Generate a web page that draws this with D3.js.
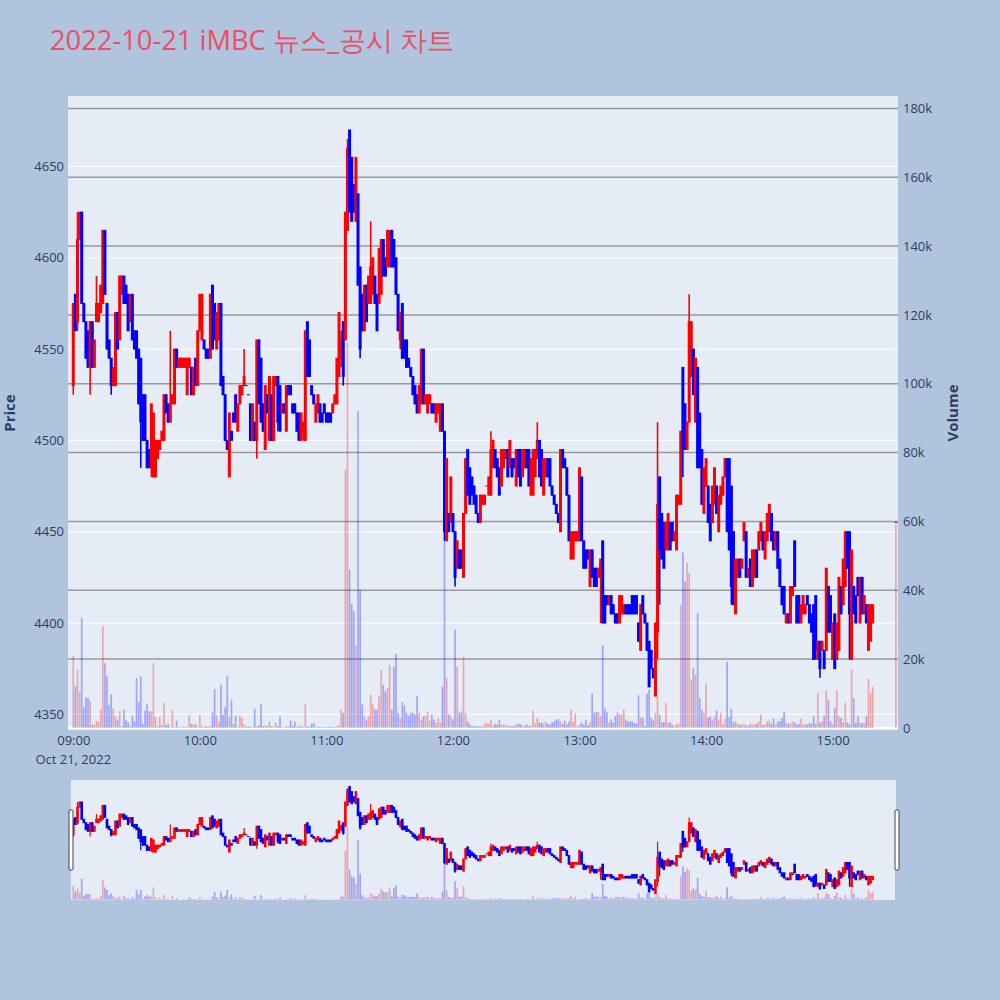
<!DOCTYPE html>
<html><head><meta charset="utf-8">
<script src="https://cdn.jsdelivr.net/npm/d3@7"></script>
<style>
body{margin:0;background:#B0C4DE}
svg{display:block}
text{font-family:"Open Sans",Verdana,Arial,sans-serif}
</style>
</head><body>
<svg id="c" width="1000" height="1000"></svg>
<script>
const chartTitle = "2022-10-21 iMBC 뉴스_공시 차트";
const tradeDay = "2022-10-21";
const dateLabel = "Oct 21, 2022";
const priceTicks = [4350,4400,4450,4500,4550,4600,4650];
const volumeTicks = [0,20000,40000,60000,80000,100000,120000,140000,160000,180000];
const volumeTickLabels = ["0","20k","40k","60k","80k","100k","120k","140k","160k","180k"];
const timeTicks = ["09:00","10:00","11:00","12:00","13:00","14:00","15:00"];

const times = [
"09:00","09:01","09:02","09:03","09:04","09:05","09:06","09:07","09:08","09:09",
"09:10","09:11","09:12","09:13","09:14","09:15","09:16","09:17","09:18","09:19",
"09:20","09:21","09:22","09:23","09:24","09:25","09:26","09:27","09:28","09:29",
"09:30","09:31","09:32","09:33","09:34","09:35","09:36","09:37","09:38","09:39",
"09:40","09:41","09:42","09:43","09:44","09:45","09:46","09:47","09:48","09:49",
"09:50","09:51","09:52","09:53","09:54","09:55","09:56","09:57","09:58","09:59",
"10:00","10:01","10:02","10:03","10:04","10:05","10:06","10:07","10:08","10:09",
"10:10","10:11","10:12","10:13","10:14","10:15","10:16","10:17","10:18","10:19",
"10:20","10:21","10:22","10:23","10:24","10:25","10:26","10:27","10:28","10:29",
"10:30","10:31","10:32","10:33","10:34","10:35","10:36","10:37","10:38","10:39",
"10:40","10:41","10:42","10:43","10:44","10:45","10:46","10:47","10:48","10:49",
"10:50","10:51","10:52","10:53","10:54","10:55","10:56","10:57","10:58","10:59",
"11:00","11:01","11:02","11:03","11:04","11:05","11:06","11:07","11:08","11:09",
"11:10","11:11","11:12","11:13","11:14","11:15","11:16","11:17","11:18","11:19",
"11:20","11:21","11:22","11:23","11:24","11:25","11:26","11:27","11:28","11:29",
"11:30","11:31","11:32","11:33","11:34","11:35","11:36","11:37","11:38","11:39",
"11:40","11:41","11:42","11:43","11:44","11:45","11:46","11:47","11:48","11:49",
"11:50","11:51","11:52","11:53","11:54","11:55","11:56","11:57","11:58","11:59",
"12:00","12:01","12:02","12:03","12:04","12:05","12:06","12:07","12:08","12:09",
"12:10","12:11","12:12","12:13","12:14","12:15","12:16","12:17","12:18","12:19",
"12:20","12:21","12:22","12:23","12:24","12:25","12:26","12:27","12:28","12:29",
"12:30","12:31","12:32","12:33","12:34","12:35","12:36","12:37","12:38","12:39",
"12:40","12:41","12:42","12:43","12:44","12:45","12:46","12:47","12:48","12:49",
"12:50","12:51","12:52","12:53","12:54","12:55","12:56","12:57","12:58","12:59",
"13:00","13:01","13:02","13:03","13:04","13:05","13:06","13:07","13:08","13:09",
"13:10","13:11","13:12","13:13","13:14","13:15","13:16","13:17","13:18","13:19",
"13:20","13:21","13:22","13:23","13:24","13:25","13:26","13:27","13:28","13:29",
"13:30","13:31","13:32","13:33","13:34","13:35","13:36","13:37","13:38","13:39",
"13:40","13:41","13:42","13:43","13:44","13:45","13:46","13:47","13:48","13:49",
"13:50","13:51","13:52","13:53","13:54","13:55","13:56","13:57","13:58","13:59",
"14:00","14:01","14:02","14:03","14:04","14:05","14:06","14:07","14:08","14:09",
"14:10","14:11","14:12","14:13","14:14","14:15","14:16","14:17","14:18","14:19",
"14:20","14:21","14:22","14:23","14:24","14:25","14:26","14:27","14:28","14:29",
"14:30","14:31","14:32","14:33","14:34","14:35","14:36","14:37","14:38","14:39",
"14:40","14:41","14:42","14:43","14:44","14:45","14:46","14:47","14:48","14:49",
"14:50","14:51","14:52","14:53","14:54","14:55","14:56","14:57","14:58","14:59",
"15:00","15:01","15:02","15:03","15:04","15:05","15:06","15:07","15:08","15:09",
"15:10","15:11","15:12","15:13","15:14","15:15","15:16","15:17","15:18","15:19",
"15:30"];

const opens = [
4530,4580,4565,4610,4625,4575,4565,4560,4540,4565,
4540,4565,4565,4570,4575,4615,4575,4555,4545,4530,
4530,4570,4555,4580,4590,4585,4580,4565,4580,4560,
4560,4550,4545,4525,4525,4500,4495,4485,4480,4480,
4490,4495,4500,4500,4525,4520,4510,4520,4520,4550,
4540,4540,4540,4540,4525,4540,4540,4525,4545,4530,
4560,4555,4555,4550,4550,4545,4585,4575,4550,4555,
4575,4535,4525,4500,4480,4505,4515,4525,4505,4520,
4525,4530,4530,4525,4520,4500,4510,4500,4555,4545,
4520,4495,4525,4500,4525,4500,4530,4535,4530,4515,
4520,4505,4530,4530,4520,4520,4515,4515,4500,4505,
4500,4565,4555,4530,4525,4510,4515,4520,4515,4520,
4515,4515,4515,4515,4520,4520,4535,4545,4565,4555,
4615,4670,4655,4640,4620,4635,4595,4580,4560,4585,
4575,4575,4580,4590,4580,4575,4580,4610,4600,4595,
4595,4615,4610,4600,4580,4555,4575,4555,4555,4545,
4540,4535,4530,4525,4515,4520,4550,4520,4515,4520,
4520,4520,4510,4515,4505,4520,4505,4445,4460,4455,
4460,4450,4430,4440,4440,4425,4460,4495,4485,4480,
4475,4470,4460,4455,4465,4465,4475,4470,4470,4485,
4495,4490,4485,4475,4485,4490,4495,4485,4490,4490,
4475,4495,4495,4480,4485,4495,4495,4470,4470,4480,
4490,4500,4495,4470,4480,4490,4490,4475,4470,4465,
4460,4450,4495,4490,4485,4470,4435,4435,4445,4445,
4445,4480,4445,4440,4440,4420,4440,4430,4430,4425,
4425,4445,4415,4415,4410,4415,4410,4405,4405,4400,
4405,4405,4410,4410,4410,4415,4415,4415,4400,4385,
4415,4405,4400,4390,4385,4375,4360,4395,4480,4460,
4455,4440,4440,4455,4455,4445,4440,4465,4465,4540,
4520,4495,4510,4535,4550,4510,4540,4515,4495,4460,
4475,4475,4465,4455,4465,4475,4450,4465,4470,4480,
4490,4490,4475,4450,4405,4425,4435,4430,4445,4450,
4425,4435,4420,4425,4440,4440,4445,4450,4435,4445,
4450,4460,4450,4440,4450,4435,4420,4420,4400,4405,
4400,4415,4445,4415,4415,4400,4405,4405,4415,4410,
4405,4410,4415,4380,4390,4385,4385,4385,4420,4415,
4380,4405,4380,4385,4420,4410,4420,4450,4450,4380,
4420,4415,4425,4400,4425,4405,4410,4385,4390,4400,
4455];

const highs = [
4575,4580,4625,4625,4625,4575,4565,4560,4565,4565,
4555,4590,4575,4585,4615,4615,4575,4555,4545,4540,
4570,4570,4590,4590,4590,4585,4580,4580,4580,4560,
4560,4550,4545,4525,4525,4500,4495,4520,4515,4500,
4500,4500,4505,4525,4525,4520,4560,4525,4550,4550,
4545,4545,4545,4545,4545,4545,4540,4540,4545,4560,
4580,4580,4555,4550,4550,4580,4585,4575,4570,4575,
4575,4535,4525,4500,4515,4505,4515,4525,4520,4530,
4530,4550,4530,4525,4520,4520,4510,4555,4555,4545,
4520,4530,4525,4535,4525,4535,4535,4535,4530,4520,
4520,4530,4530,4530,4520,4520,4515,4515,4515,4510,
4560,4565,4555,4530,4525,4520,4525,4520,4515,4520,
4515,4515,4515,4520,4525,4545,4570,4560,4565,4625,
4665,4670,4655,4640,4655,4635,4595,4580,4585,4585,
4590,4620,4600,4590,4580,4605,4610,4610,4600,4615,
4615,4615,4610,4600,4580,4570,4575,4555,4555,4545,
4540,4535,4530,4525,4530,4550,4550,4525,4525,4525,
4520,4520,4520,4520,4520,4520,4505,4490,4460,4480,
4460,4450,4445,4440,4440,4460,4490,4495,4485,4480,
4475,4470,4460,4470,4470,4470,4475,4480,4505,4500,
4495,4490,4485,4495,4495,4495,4495,4500,4490,4490,
4495,4495,4495,4495,4495,4495,4495,4490,4495,4495,
4510,4500,4495,4490,4490,4490,4490,4475,4470,4465,
4460,4495,4495,4490,4485,4470,4450,4450,4450,4450,
4485,4480,4445,4440,4440,4440,4440,4430,4430,4430,
4435,4445,4415,4415,4415,4415,4410,4405,4405,4415,
4415,4410,4410,4410,4410,4415,4415,4415,4400,4410,
4415,4405,4400,4390,4385,4375,4400,4510,4480,4460,
4455,4455,4460,4455,4455,4450,4470,4470,4505,4540,
4520,4510,4580,4565,4550,4545,4540,4515,4495,4485,
4490,4475,4465,4475,4485,4475,4470,4475,4480,4490,
4490,4490,4475,4450,4435,4435,4435,4435,4455,4450,
4430,4435,4440,4440,4440,4450,4455,4450,4450,4460,
4465,4460,4450,4450,4450,4435,4420,4420,4405,4405,
4420,4420,4445,4415,4415,4410,4415,4410,4415,4410,
4405,4410,4415,4390,4390,4390,4385,4430,4420,4415,
4400,4405,4400,4425,4420,4435,4450,4450,4450,4440,
4420,4415,4425,4425,4425,4415,4410,4410,4410,4410,
4455];

const lows = [
4525,4560,4560,4610,4575,4565,4545,4540,4525,4540,
4540,4565,4565,4570,4575,4580,4550,4545,4525,4530,
4530,4550,4555,4580,4575,4575,4560,4565,4555,4550,
4545,4520,4485,4500,4500,4485,4485,4480,4480,4480,
4490,4495,4500,4500,4515,4510,4510,4520,4520,4540,
4540,4540,4540,4540,4525,4540,4525,4525,4530,4530,
4560,4555,4550,4545,4545,4545,4550,4555,4550,4555,
4530,4525,4500,4495,4480,4500,4510,4510,4505,4520,
4525,4530,4530,4525,4500,4500,4500,4490,4520,4510,
4505,4495,4515,4500,4500,4500,4530,4505,4505,4515,
4515,4505,4525,4525,4515,4515,4505,4500,4500,4500,
4500,4535,4535,4525,4520,4510,4515,4510,4510,4515,
4510,4510,4510,4515,4520,4520,4535,4540,4530,4555,
4615,4625,4620,4625,4620,4585,4545,4560,4560,4565,
4575,4575,4580,4575,4560,4575,4580,4590,4590,4595,
4595,4595,4595,4580,4560,4550,4545,4545,4540,4540,
4535,4525,4520,4515,4515,4520,4520,4520,4515,4520,
4515,4515,4510,4515,4505,4505,4445,4445,4450,4455,
4450,4420,4430,4430,4430,4425,4460,4470,4465,4470,
4465,4460,4455,4455,4465,4465,4475,4470,4470,4485,
4485,4480,4470,4475,4485,4490,4480,4485,4480,4485,
4475,4480,4475,4480,4485,4485,4475,4470,4470,4480,
4490,4480,4475,4470,4480,4480,4475,4470,4465,4460,
4455,4450,4485,4485,4470,4445,4435,4435,4445,4445,
4445,4445,4430,4430,4435,4420,4425,4420,4420,4425,
4400,4400,4400,4410,4410,4405,4405,4400,4400,4400,
4405,4405,4405,4405,4405,4405,4405,4405,4390,4385,
4405,4400,4385,4365,4375,4370,4360,4380,4410,4435,
4430,4440,4440,4440,4445,4445,4440,4465,4465,4480,
4495,4495,4510,4535,4525,4510,4485,4485,4465,4460,
4475,4455,4445,4455,4465,4460,4450,4465,4470,4480,
4450,4440,4410,4410,4405,4425,4425,4430,4445,4425,
4425,4420,4420,4425,4425,4440,4445,4440,4435,4445,
4450,4445,4440,4440,4430,4420,4410,4405,4400,4400,
4400,4415,4420,4400,4400,4400,4405,4405,4410,4400,
4395,4380,4380,4380,4370,4385,4375,4385,4395,4395,
4380,4375,4380,4385,4405,4410,4420,4430,4380,4380,
4405,4400,4415,4400,4405,4405,4400,4385,4390,4400,
4455];

const closes = [
4575,4560,4610,4625,4575,4565,4545,4540,4565,4540,
4555,4575,4575,4585,4615,4580,4550,4545,4530,4540,
4570,4550,4590,4590,4575,4575,4560,4580,4555,4550,
4545,4520,4510,4500,4500,4485,4485,4520,4515,4500,
4500,4500,4505,4525,4515,4510,4520,4525,4550,4540,
4545,4545,4545,4545,4545,4545,4525,4540,4530,4560,
4580,4580,4550,4545,4545,4580,4550,4555,4570,4575,
4530,4525,4500,4495,4515,4500,4510,4510,4520,4530,
4530,4535,4530,4525,4500,4520,4500,4555,4520,4510,
4505,4530,4515,4535,4500,4535,4535,4510,4505,4520,
4515,4530,4525,4525,4515,4515,4505,4500,4515,4510,
4560,4535,4535,4525,4520,4520,4525,4510,4510,4515,
4510,4510,4510,4520,4525,4545,4570,4555,4535,4625,
4660,4625,4620,4625,4655,4585,4550,4560,4585,4565,
4590,4595,4600,4575,4560,4605,4610,4590,4590,4615,
4615,4595,4595,4580,4560,4570,4545,4545,4540,4540,
4535,4525,4520,4515,4530,4550,4520,4525,4525,4525,
4515,4515,4520,4520,4520,4505,4450,4490,4450,4480,
4450,4425,4445,4430,4430,4460,4490,4470,4465,4470,
4465,4460,4455,4470,4470,4470,4475,4480,4495,4500,
4485,4480,4470,4495,4495,4495,4480,4500,4480,4485,
4495,4480,4475,4495,4495,4485,4475,4490,4495,4495,
4500,4480,4475,4490,4490,4480,4475,4470,4465,4460,
4455,4495,4485,4485,4470,4445,4450,4450,4450,4450,
4485,4445,4430,4430,4435,4440,4425,4420,4420,4430,
4435,4400,4400,4410,4415,4405,4405,4400,4400,4415,
4415,4410,4405,4405,4405,4405,4405,4405,4390,4410,
4405,4400,4385,4365,4375,4370,4400,4465,4440,4435,
4430,4455,4460,4440,4445,4450,4470,4470,4505,4495,
4495,4510,4565,4565,4525,4545,4485,4485,4465,4485,
4490,4455,4445,4475,4485,4460,4470,4475,4480,4490,
4450,4440,4420,4410,4435,4435,4425,4435,4455,4425,
4430,4420,4440,4440,4425,4450,4455,4440,4450,4460,
4465,4445,4440,4450,4430,4420,4410,4405,4405,4400,
4420,4420,4420,4400,4400,4410,4415,4410,4410,4400,
4395,4380,4385,4390,4375,4390,4375,4430,4395,4395,
4400,4375,4400,4425,4405,4435,4450,4430,4405,4440,
4405,4400,4415,4425,4405,4415,4400,4410,4410,4410,
4455];

const volumes = [
21000,12000,16800,10500,32000,6000,8800,8800,7900,1000,
900,2000,1700,5300,29700,18800,15000,6700,9700,5600,
3400,2400,4800,500,5300,2400,1700,500,3600,1900,
14500,7500,15000,1200,5000,7000,4800,4800,18800,3200,
500,3200,800,7300,800,1200,200,5100,200,2100,
300,200,500,300,400,3800,1200,1000,1000,400,
3800,700,300,500,400,600,4500,11300,3600,1900,
12600,3800,6000,15000,3200,8000,1100,3600,300,3600,
2900,1000,400,400,300,300,5600,500,800,6900,
500,800,500,1900,500,400,1600,500,3300,300,
100,500,300,2100,600,1800,300,500,800,400,
6900,500,300,1200,1400,300,400,400,200,300,
200,300,400,300,300,500,800,5300,4400,75000,
112000,46000,36000,34000,24000,92000,40000,6800,3400,2400,
3400,9600,6800,5300,5300,9200,16800,12500,10600,11600,
18300,5300,17800,21500,4400,2900,7500,6500,4400,3600,
4400,4400,3900,9400,4400,2400,3400,3600,4800,2100,
3900,2400,1500,2900,1500,12000,57000,14500,3900,3400,
2400,28500,17800,4400,4800,20600,4400,1900,1000,500,
500,500,500,500,500,1200,1500,1200,2400,700,
1200,1000,2400,1000,1000,1000,500,800,500,500,
1000,1200,1200,700,800,1000,500,700,5000,1300,
2900,1500,1600,1200,1900,1200,1000,1600,1900,2400,
2600,1900,1200,2100,1000,1900,5300,1900,4200,500,
1000,1600,1000,2400,800,1600,10000,4400,4600,4600,
3400,24000,5600,4600,1600,2400,1600,3400,4400,3900,
3900,5300,2400,1900,1900,1900,1500,1200,9500,3100,
2900,500,9900,11100,2900,2200,4400,9200,3900,1600,
1700,7300,1600,1600,1000,500,1200,1200,35800,51000,
42600,48000,45000,14000,17400,15500,33400,8700,5300,4400,
12900,3000,3400,2400,3400,5000,2400,4400,1000,2600,
19200,3200,5500,1600,1900,1200,1000,1000,1000,700,
700,1200,1000,1000,1200,1900,3900,800,1000,1900,
2100,1200,2700,1000,1900,1900,2900,4800,1600,1200,
1200,1900,1600,1000,1200,2700,1000,1200,1000,1500,
1200,3400,1200,10200,1600,1900,3400,10900,8000,1900,
1000,5800,11100,3400,2900,1700,7300,1600,1000,17000,
8700,1500,3400,1600,1400,1400,3400,14300,10200,11900,
59000];

// ---------- layout ----------
const W = 1000, H = 1000;
const M = {l: 68, r: 898, t: 96, b: 730};
const S = {l: 68, r: 898, t: 780, b: 900};
const UP = "#ff0000", DOWN = "#0000ff";
const FONT_COLOR = "#2a3f5f";

const svg = d3.select("#c");
const parse = d3.timeParse("%Y-%m-%d %H:%M");
const N = Math.min(times.length, opens.length, highs.length, lows.length, closes.length, volumes.length);
const rows = d3.range(N).map(i => ({
  t: parse(tradeDay + " " + times[i]), o: opens[i], h: highs[i], l: lows[i], c: closes[i], v: volumes[i]
}));
rows.forEach((d, i) => {
  if (d.c > d.o) d.up = true;
  else if (d.c < d.o) d.up = false;
  else d.up = i > 0 ? (d.c >= rows[i-1].c) : true;
});

const tFirst = rows[0].t, tLast = rows[N-1].t;
const x = d3.scaleTime()
  .domain([d3.timeSecond.offset(tFirst, -150), d3.timeSecond.offset(tLast, 60)])
  .range([M.l, M.r]);
const lo = d3.min(rows, d => d.l), hi = d3.max(rows, d => d.h), pad = (hi - lo) * 0.06;
const y = d3.scaleLinear().domain([lo - pad, hi + pad]).range([M.b, M.t]);
const yv = d3.scaleLinear().domain([-600, 183600]).range([M.b, M.t]);
const ys = y.copy().range([S.b, S.t]);
const yvs = yv.copy().range([S.b, S.t]);

// background
svg.append("rect").attr("width", W).attr("height", H).attr("fill", "#B0C4DE");
svg.append("rect").attr("x", M.l).attr("y", M.t).attr("width", M.r - M.l).attr("height", M.b - M.t).attr("fill", "#E5ECF6");

const defs = svg.append("defs");
defs.append("clipPath").attr("id", "clipMain").append("rect")
  .attr("x", M.l).attr("y", M.t).attr("width", M.r - M.l).attr("height", M.b - M.t);
defs.append("clipPath").attr("id", "clipSlider").append("rect")
  .attr("x", S.l + 3).attr("y", S.t).attr("width", S.r - S.l - 5).attr("height", S.b - S.t);

// gridlines
svg.append("g").selectAll("line").data(priceTicks).join("line")
  .attr("x1", M.l).attr("x2", M.r).attr("y1", d => y(d)).attr("y2", d => y(d))
  .attr("stroke", "#ffffff").attr("stroke-width", 1);
svg.append("g").selectAll("line").data(volumeTicks.filter(v => v > 0)).join("line")
  .attr("x1", M.l).attr("x2", M.r).attr("y1", d => yv(d)).attr("y2", d => yv(d))
  .attr("stroke", "#9a9a9a").attr("stroke-width", 1.5);
svg.append("line").attr("x1", M.l).attr("x2", M.r).attr("y1", yv(0)).attr("y2", yv(0))
  .attr("stroke", "#ffffff").attr("stroke-width", 2);

function drawVolume(g, ys2, barW) {
  g.selectAll("rect.v").data(rows).join("rect").attr("class", "v")
    .attr("x", d => x(d.t) - barW / 2)
    .attr("width", barW)
    .attr("y", d => ys2(d.v))
    .attr("height", d => Math.max(0, ys2(0) - ys2(d.v)))
    .attr("fill", d => d.up ? UP : DOWN)
    .attr("opacity", 0.3);
}
function drawCandles(g, yy, bodyW, wickW) {
  const c = g.selectAll("g.k").data(rows).join("g").attr("class", "k");
  c.append("line")
    .attr("x1", d => x(d.t)).attr("x2", d => x(d.t))
    .attr("y1", d => yy(d.h)).attr("y2", d => yy(d.l))
    .attr("stroke", d => d.up ? UP : DOWN).attr("stroke-width", wickW);
  c.append("rect")
    .attr("x", d => x(d.t) - bodyW / 2).attr("width", bodyW)
    .attr("y", d => Math.min(yy(d.o), yy(d.c)) - 0.5)
    .attr("height", d => Math.abs(yy(d.o) - yy(d.c)) + 1)
    .attr("fill", d => d.up ? UP : DOWN);
}

const main = svg.append("g").attr("clip-path", "url(#clipMain)");
drawVolume(main.append("g"), yv, 1.7);
drawCandles(main.append("g"), y, 3, 1.6);

// axes
const axL = svg.append("g").attr("transform", `translate(${M.l},0)`)
  .call(d3.axisLeft(y).tickValues(priceTicks).tickFormat(d3.format("d")).tickSize(0).tickPadding(4));
const axR = svg.append("g").attr("transform", `translate(${M.r},0)`)
  .call(d3.axisRight(yv).tickValues(volumeTicks).tickFormat((d, i) => volumeTickLabels[i]).tickSize(0).tickPadding(5));
const axB = svg.append("g").attr("transform", `translate(0,${M.b})`)
  .call(d3.axisBottom(x).tickValues(timeTicks.map(t => parse(tradeDay + " " + t)))
    .tickFormat(d3.timeFormat("%H:%M")).tickSize(0).tickPadding(6));
[axL, axR, axB].forEach(a => {
  a.select(".domain").remove();
  a.selectAll("text").attr("fill", FONT_COLOR).style("font-size", "13px")
    .style("font-family", '"Open Sans",Verdana,Arial,sans-serif');
});
svg.append("text").attr("x", x(tFirst)).attr("y", 764).attr("text-anchor", "middle")
  .attr("fill", FONT_COLOR).style("font-size", "13px").text(dateLabel);

svg.append("text").attr("transform", `translate(15,${(M.t + M.b) / 2}) rotate(-90)`)
  .attr("text-anchor", "middle").attr("fill", FONT_COLOR)
  .style("font-size", "15px").style("font-weight", "bold").text("Price");
svg.append("text").attr("transform", `translate(958,${(M.t + M.b) / 2}) rotate(-90)`)
  .attr("text-anchor", "middle").attr("fill", FONT_COLOR)
  .style("font-size", "15px").style("font-weight", "bold").text("Volume");

// title
svg.append("text").attr("x", 50).attr("y", 50).attr("fill", "rgb(235,79,99)")
  .style("font-size", "27.3px").text(chartTitle);

// range slider
svg.append("rect").attr("x", S.l + 3).attr("y", S.t).attr("width", S.r - S.l - 5).attr("height", S.b - S.t)
  .attr("fill", "#E5ECF6");
const sl = svg.append("g").attr("clip-path", "url(#clipSlider)");
drawVolume(sl.append("g"), yvs, 1.7);
drawCandles(sl.append("g"), ys, 2.6, 1.2);
[S.l + 1, S.r - 3].forEach(hx => {
  svg.append("rect").attr("x", hx).attr("y", S.t + 30).attr("width", 4).attr("height", 60)
    .attr("rx", 1).attr("fill", "#ffffff").attr("stroke", "#444").attr("stroke-width", 1);
});
</script>
</body></html>
